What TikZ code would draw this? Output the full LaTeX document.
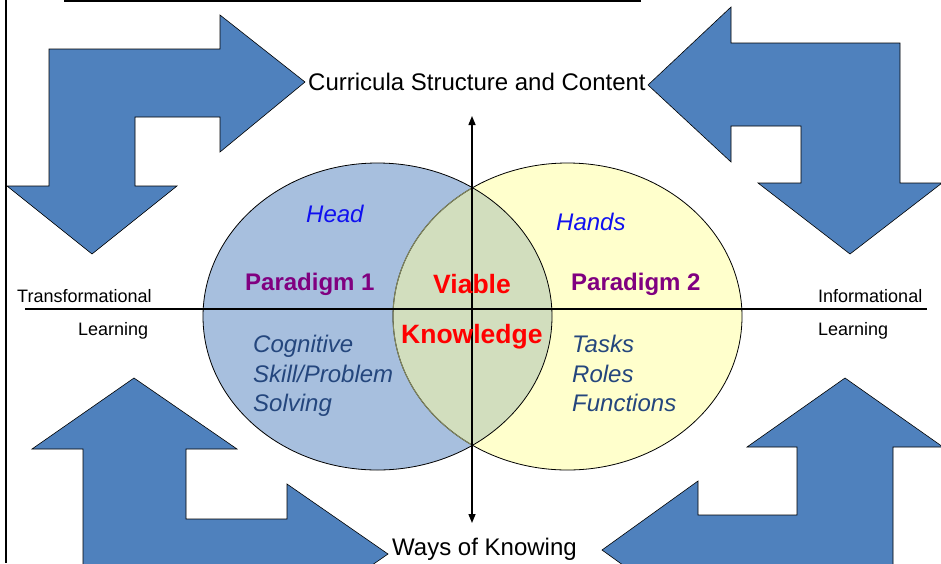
\documentclass[tikz,border=0pt]{standalone}
\usepackage{fontspec}
\setmainfont{Liberation Sans}
\usetikzlibrary{arrows.meta}
\definecolor{arrowblue}{RGB}{79,129,189}
\definecolor{leftfill}{RGB}{167,191,222}
\definecolor{rightfill}{RGB}{255,255,204}
\definecolor{overlapfill}{RGB}{210,222,190}
\definecolor{overlapline}{RGB}{130,135,95}
\definecolor{headblue}{RGB}{16,16,240}
\definecolor{listblue}{RGB}{36,70,125}
\definecolor{paradigmcol}{RGB}{128,0,128}
\definecolor{viablered}{RGB}{255,0,0}
\begin{document}
\begin{tikzpicture}[x=1pt,y=-1pt,
  bigarrow/.style={fill=arrowblue, draw=black, line width=0.6pt, line join=miter},
  lbl/.style={anchor=base west, inner sep=0pt, font=\fontsize{24}{28}\selectfont},
  sidelbl/.style={anchor=base west, inner sep=0pt, font=\fontsize{18}{21}\selectfont},
  headlbl/.style={lbl, text=headblue, font=\fontsize{24}{28}\selectfont\itshape},
  listlbl/.style={lbl, text=listblue, font=\fontsize{24}{28}\selectfont\itshape},
  paralbl/.style={lbl, text=paradigmcol, font=\fontsize{24}{28}\selectfont\bfseries},
  viablelbl/.style={lbl, text=viablered, font=\fontsize{26.5}{30}\selectfont\bfseries},
  axisline/.style={line width=1.4pt, draw=black},
  elltip/.style={-{Triangle[length=9pt,width=7pt]}}
]
\useasboundingbox (0,0) rectangle (941,563);
\clip (0,0) rectangle (941,563);

% frame lines
\coordinate (bl0) at (6,0);
\coordinate (bl1) at (6,563);
\draw[line width=2pt] (bl0) -- (bl1);
\coordinate (tl0) at (64,0.8);
\coordinate (tl1) at (641,0.8);
\draw[line width=2.6pt] (tl0) -- (tl1);

% corner arrows
\draw[bigarrow] (7,186) -- (49,186) -- (49,49) -- (220,49) -- (220,15) -- (305,82)
  -- (220,152) -- (220,117) -- (135,117) -- (135,186) -- (177,186) -- (92,254) -- cycle;
\draw[bigarrow] (648,85) -- (731,7) -- (731,43) -- (900,43) -- (900,183) -- (942,183)
  -- (850,254) -- (758,183) -- (801,183) -- (801,126) -- (731,126) -- (731,162) -- cycle;
\draw[bigarrow] (134,378) -- (237,449) -- (186,449) -- (186,519) -- (287,519) -- (287,484)
  -- (388,554) -- (287,624) -- (287,622) -- (83,622) -- (83,449) -- (32,449) -- cycle;
\draw[bigarrow] (845,378) -- (943,447) -- (893,447) -- (893,611) -- (698,611) -- (698,619)
  -- (602,550) -- (698,481) -- (698,515) -- (797,515) -- (797,447) -- (747,447) -- cycle;

% ellipses
\coordinate (lc) at (377.5,316.5);
\coordinate (rc) at (567.5,316.5);
\fill[leftfill] (lc) ellipse [x radius=174.5pt, y radius=153.5pt];
\fill[rightfill] (rc) ellipse [x radius=174.5pt, y radius=153.5pt];
\begin{scope}
  \clip (lc) ellipse [x radius=174.5pt, y radius=153.5pt];
  \fill[overlapfill] (rc) ellipse [x radius=174.5pt, y radius=153.5pt];
\end{scope}
\draw[line width=0.8pt] (rc) ellipse [x radius=174.5pt, y radius=153.5pt];
\begin{scope}
  \clip (lc) ellipse [x radius=174.5pt, y radius=153.5pt];
  \draw[line width=1pt, overlapline] (rc) ellipse [x radius=174.5pt, y radius=153.5pt];
\end{scope}
\draw[line width=0.8pt] (lc) ellipse [x radius=174.5pt, y radius=153.5pt];

% axes
\coordinate (hl) at (25,309);
\coordinate (hr) at (927,309);
\draw[axisline, line width=1.6pt] (hl) -- (hr);
\coordinate (vm) at (472,309);
\coordinate (vt) at (472,116);
\coordinate (vb) at (472,523);
\draw[axisline, elltip] (vm) -- (vt);
\draw[axisline, elltip] (vm) -- (vb);

% texts
\node[lbl] (curr) at (308,90) {Curricula Structure and Content};
\node[lbl] (ways) at (392,555) {Ways of Knowing};
\node[sidelbl] (trans) at (17,302) {Transformational};
\node[sidelbl] (learnl) at (78,335) {Learning};
\node[sidelbl] (info) at (818,302) {Informational};
\node[sidelbl] (learnr) at (818,335) {Learning};
\node[headlbl] (head) at (306,222) {Head};
\node[headlbl] (hands) at (556,230) {Hands};
\node[paralbl] (p1) at (245,290) {Paradigm 1};
\node[paralbl] (p2) at (571,290) {Paradigm 2};
\node[viablelbl] (viable) at (433,293) {Viable};
\node[viablelbl] (know) at (401,343) {Knowledge};
\node[listlbl] (cog) at (253,352) {Cognitive};
\node[listlbl] (skill) at (253,382) {Skill/Problem};
\node[listlbl] (solv) at (253,411) {Solving};
\node[listlbl] (tasks) at (572,352) {Tasks};
\node[listlbl] (roles) at (572,382) {Roles};
\node[listlbl] (func) at (572,411) {Functions};
\end{tikzpicture}
\end{document}
